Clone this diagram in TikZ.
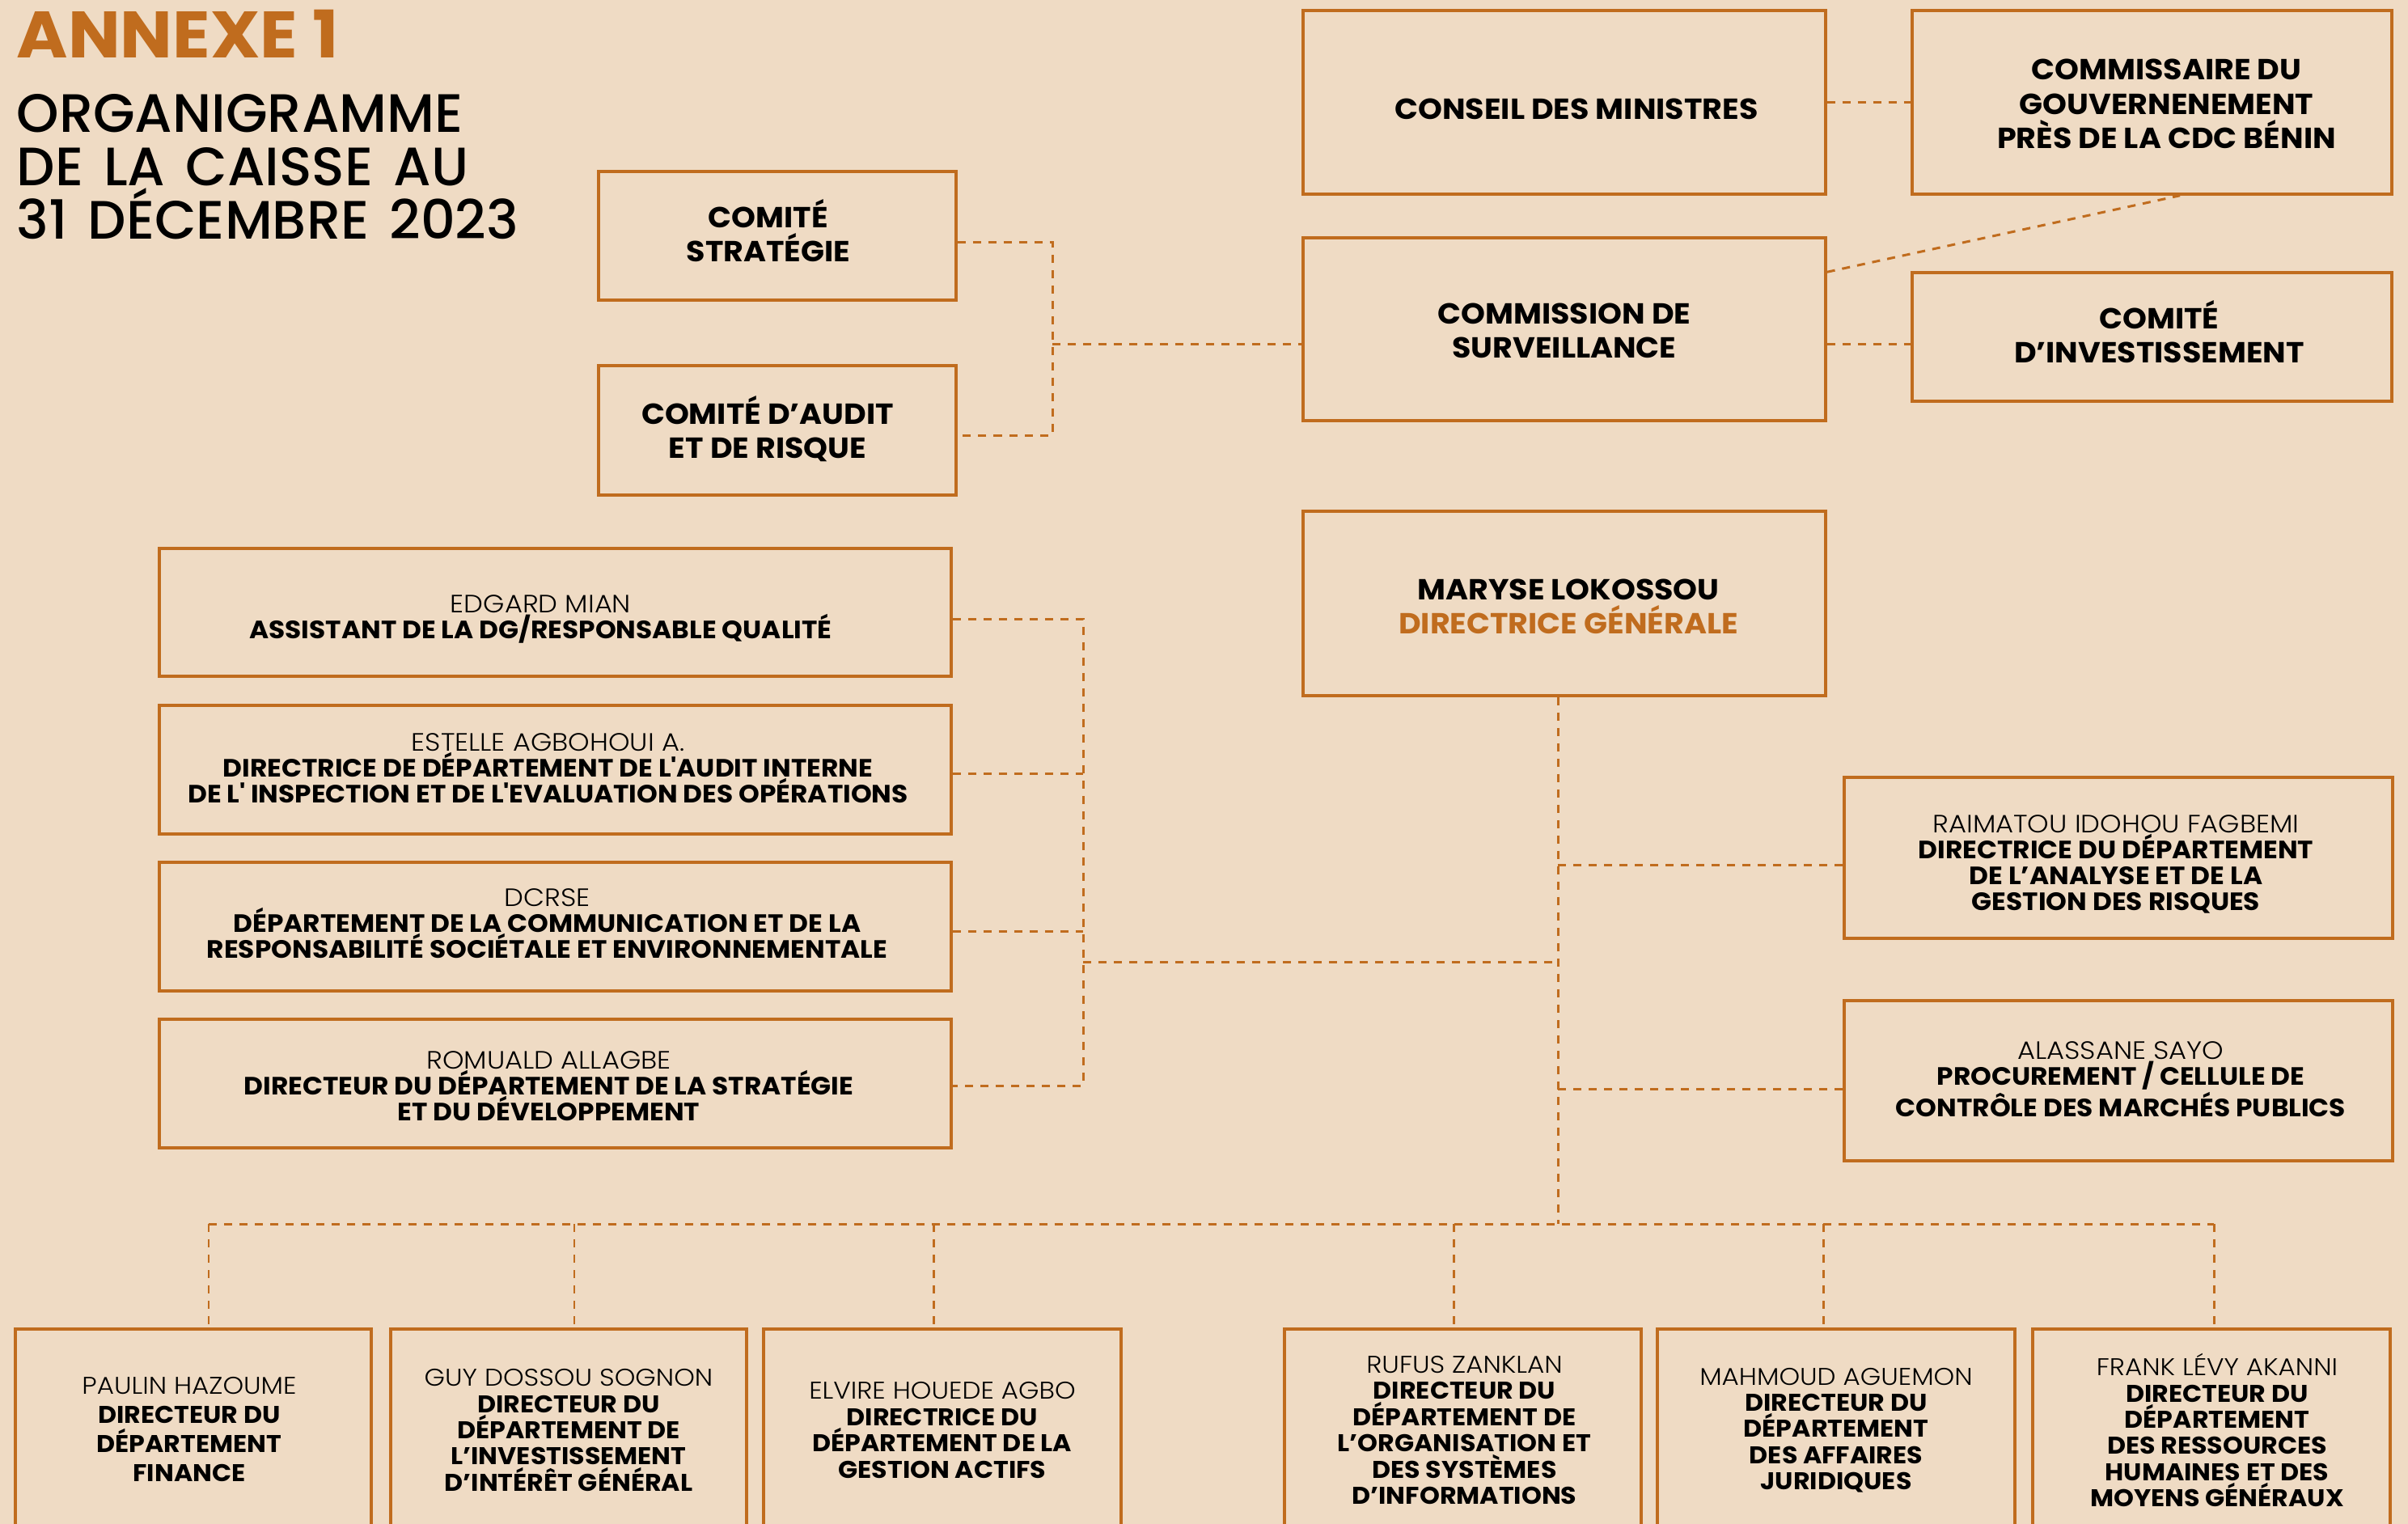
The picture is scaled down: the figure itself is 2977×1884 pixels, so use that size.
\documentclass[tikz,border=0pt]{standalone}
\usepackage{fontspec}
\setmainfont{Poppins}[FakeStretch=1.06]
\newfontfamily\plight{Poppins Light}[FakeStretch=1.09]
\newfontfamily\pmed{Poppins Medium}[WordSpace=1.45]
\definecolor{bgc}{RGB}{239,219,196}
\definecolor{orng}{RGB}{192,108,30}
\tikzset{
  x=0.01cm, y=-0.01cm,
  obox/.style={draw=orng, line width=1pt, inner sep=0pt},
  otext/.style={inner sep=0pt, align=center, text=black},
  conn/.style={draw=orng, line width=0.85pt, dash pattern=on 0.1cm off 0.09cm},
  ttop/.style={font=\fontsize{10.2}{12}\selectfont\bfseries},
  tdg/.style={font=\fontsize{10.2}{12}\selectfont\bfseries},
  tmid/.style={font=\fontsize{8.8}{9.1}\selectfont},
  tbot/.style={font=\fontsize{8.5}{9.2}\selectfont},
  ttitle/.style={anchor=base west, inner sep=0pt, font=\pmed\fontsize{19}{20}\selectfont},
}
% [text style]{name}{x1}{y1}{x2}{y2}{dx}{dy}{text}  (pixels, y downwards)
\newcommand\orgbox[9][]{%
  \node[obox,minimum width={(#5-#3)*0.01cm},minimum height={(#6-#4)*0.01cm}] (#2) at ({(#3+#5)/2},{(#4+#6)/2}) {};
  \node[otext,#1] (#2t) at ([xshift={(#7)*0.01cm},yshift={-(#8)*0.01cm}]#2.center) {#9};}
\newcommand\nm[1]{{\plight #1}}
\begin{document}
\begin{tikzpicture}
\fill[bgc] (0,0) rectangle (2977,1884);
\useasboundingbox (0,0) rectangle (2977,1884);

% titles
\node[anchor=base west, inner sep=0pt, text=orng, font=\fontsize{23.1}{26}\selectfont\bfseries] (annexe) at (20,71) {ANNEXE 1};
\node[ttitle] (title1) at (20,163) {ORGANIGRAMME};
\node[ttitle] (title2) at (20,229) {DE LA CAISSE AU};
\node[ttitle] (title3) at (20,295) {31 DÉCEMBRE 2023};

% governance boxes
\orgbox[ttop]{conseil}{1611}{13}{2257}{240}{15}{8}{CONSEIL DES MINISTRES}
\orgbox[ttop]{commissaire}{2364}{13}{2957}{240}{18}{2}{COMMISSAIRE DU\\GOUVERNENEMENT\\PRÈS DE LA CDC BÉNIN}
\orgbox[ttop]{commission}{1611}{294}{2257}{520}{0}{2}{COMMISSION DE\\SURVEILLANCE}
\orgbox[ttop]{cominv}{2364}{337}{2957}{496}{9}{-6}{COMITÉ\\D’INVESTISSEMENT}
\orgbox[ttop]{strat}{740}{212}{1182}{371}{-11}{-6}{COMITÉ\\STRATÉGIE}
\orgbox[ttop]{audit}{740}{452}{1182}{612}{-12}{-2}{COMITÉ D’AUDIT\\ET DE RISQUE}

% direction
\orgbox[tdg]{dg}{1611}{632}{2257}{860}{5}{4}{MARYSE LOKOSSOU\\\textcolor{orng}{DIRECTRICE GÉNÉRALE}}

% left staff
\orgbox[tmid]{edgard}{197}{678}{1176}{836}{-18}{8}{\nm{EDGARD MIAN}\\\textbf{ASSISTANT DE LA DG/RESPONSABLE QUALITÉ}}
\orgbox[tmid]{estelle}{197}{872}{1176}{1031}{-9}{-2}{\nm{ESTELLE AGBOHOUI A.}\\\textbf{DIRECTRICE DE DÉPARTEMENT DE L\textquotesingle AUDIT INTERNE}\\\textbf{DE L\textquotesingle\ INSPECTION ET DE L\textquotesingle EVALUATION DES OPÉRATIONS}}
\orgbox[tmid]{dcrse}{197}{1066}{1176}{1225}{-10}{-4}{\nm{DCRSE}\\\textbf{DÉPARTEMENT DE LA COMMUNICATION ET DE LA}\\\textbf{RESPONSABILITÉ SOCIÉTALE ET ENVIRONNEMENTALE}}
\orgbox[tmid]{romuald}{197}{1260}{1176}{1419}{-8}{3}{\nm{ROMUALD ALLAGBE}\\\textbf{DIRECTEUR DU DÉPARTEMENT DE LA STRATÉGIE}\\\textbf{ET DU DÉVELOPPEMENT}}

% right staff
\orgbox[tmid]{raimatou}{2280}{961}{2958}{1160}{-3}{8}{\nm{RAIMATOU IDOHOU FAGBEMI}\\\textbf{DIRECTRICE DU DÉPARTEMENT}\\\textbf{DE L’ANALYSE ET DE LA}\\\textbf{GESTION DES RISQUES}}
\orgbox[tmid]{alassane}{2280}{1237}{2958}{1435}{3}{-2}{\nm{ALASSANE SAYO}\\\textbf{PROCUREMENT / CELLULE DE}\\\textbf{CONTRÔLE DES MARCHÉS PUBLICS}}

% departments
\orgbox[font=\fontsize{8.5}{10.2}\selectfont]{b1}{19}{1643}{459}{1893}{-5}{-1}{\nm{PAULIN HAZOUME}\\\textbf{DIRECTEUR DU}\\\textbf{DÉPARTEMENT}\\\textbf{FINANCE}}
\orgbox[tbot]{b2}{483}{1643}{923}{1893}{0}{0}{\nm{GUY DOSSOU SOGNON}\\\textbf{DIRECTEUR DU}\\\textbf{DÉPARTEMENT DE}\\\textbf{L’INVESTISSEMENT}\\\textbf{D’INTÉRÊT GÉNÉRAL}}
\orgbox[tbot]{b3}{944}{1643}{1386}{1893}{0}{0}{\nm{ELVIRE HOUEDE AGBO}\\\textbf{DIRECTRICE DU}\\\textbf{DÉPARTEMENT DE LA}\\\textbf{GESTION ACTIFS}}
\orgbox[tbot]{b4}{1588}{1643}{2029}{1893}{2}{0}{\nm{RUFUS ZANKLAN}\\\textbf{DIRECTEUR DU}\\\textbf{DÉPARTEMENT DE}\\\textbf{L’ORGANISATION ET}\\\textbf{DES SYSTÈMES}\\\textbf{D’INFORMATIONS}}
\orgbox[tbot]{b5}{2049}{1643}{2491}{1893}{0}{0}{\nm{MAHMOUD AGUEMON}\\\textbf{DIRECTEUR DU}\\\textbf{DÉPARTEMENT}\\\textbf{DES AFFAIRES}\\\textbf{JURIDIQUES}}
\orgbox[tbot]{b6}{2513}{1643}{2955}{1893}{7}{0}{\nm{FRANK LÉVY AKANNI}\\\textbf{DIRECTEUR DU}\\\textbf{DÉPARTEMENT}\\\textbf{DES RESSOURCES}\\\textbf{HUMAINES ET DES}\\\textbf{MOYENS GÉNÉRAUX}}

% connectors: governance
\draw[conn] (conseil.east) -- (commissaire.west);
\draw[conn] ([yshift=-0.44cm]commission.north east) -- ([xshift=0.345cm]commissaire.south);
\coordinate (jc) at (1301,425);
\draw[conn] (commission.east |- jc) -- (cominv.west |- jc);
\draw[conn] (jc) -- (jc -| commission.west);
\coordinate (s1) at ([yshift=-0.08cm]strat.east);
\coordinate (s2) at ([yshift=-0.06cm]audit.east);
\draw[conn] (s1) -| (jc |- s2) -- (s2);

% connectors: direction
\coordinate (jl) at (1339,1189);
\coordinate (bus) at (1926,1513);
\draw[conn] (dg.south -| bus) -- (bus);
\coordinate (e1) at ([yshift=-0.08cm]edgard.east);
\coordinate (e2) at ([yshift=-0.05cm]estelle.east);
\coordinate (e3) at ([yshift=-0.06cm]dcrse.east);
\coordinate (e4) at ([yshift=-0.03cm]romuald.east);
\draw[conn] (e1) -| (jl |- e4) -- (e4);
\draw[conn] (e2) -- (e2 -| jl);
\draw[conn] (e3) -- (e3 -| jl);
\draw[conn] (jl) -- (jl -| bus);
\coordinate (r1) at ([yshift=-0.09cm]raimatou.west);
\coordinate (r2) at ([yshift=-0.10cm]alassane.west);
\draw[conn] (r1 -| bus) -- (r1);
\draw[conn] (r2 -| bus) -- (r2);

% connectors: departments
\coordinate (d1) at (258,1513);
\coordinate (d2) at (710,1513);
\coordinate (d3) at (1154,1513);
\coordinate (d4) at (1797,1513);
\coordinate (d5) at (2254,1513);
\coordinate (d6) at (2737,1513);
\draw[conn] (d1) -- (d6);
\draw[conn] (d1) -- (d1 |- b1.north);
\draw[conn] (d2) -- (d2 |- b2.north);
\draw[conn] (d3) -- (d3 |- b3.north);
\draw[conn] (d4) -- (d4 |- b4.north);
\draw[conn] (d5) -- (d5 |- b5.north);
\draw[conn] (d6) -- (d6 |- b6.north);
\end{tikzpicture}
\end{document}
